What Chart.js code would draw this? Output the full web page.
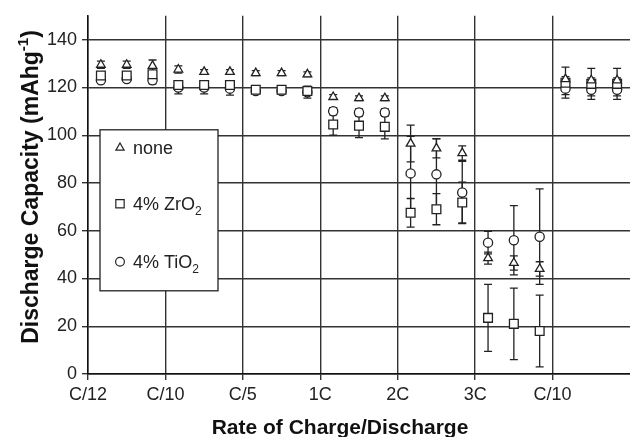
<!DOCTYPE html>
<html>
<head>
<meta charset="utf-8">
<script src="https://cdn.jsdelivr.net/npm/chart.js@4.4.1/dist/chart.umd.min.js"></script>
<style>
  html, body { margin: 0; padding: 0; background: #fff; }
</style>
</head>
<body>
<canvas id="myChart" width="630" height="437"></canvas>
<script>
const rate_labels = ['C/12', 'C/10', 'C/5', '1C', '2C', '3C', 'C/10'];
const cycles_per_rate = 3;
const y_ticks = [0, 20, 40, 60, 80, 100, 120, 140];

const none_values = [129.5, 129.5, 129, 127.5, 126.5, 126.5, 126, 126, 125.5, 116, 115.5, 115.5, 96.5, 94.5, 92.5, 48.5, 46.5, 44, 123.5, 123, 123];
const none_errors = [1.5, 1.5, 2.5, 1.5, 1, 1, 1, 1, 1, 1, 1, 1, 7.7, 4, 3, 2.5, 3, 3, 1, 1, 1];

const zro2_values = [125, 125, 125.5, 121, 121, 121, 119, 119, 118.5, 104.5, 104, 103.5, 67.5, 69, 71.8, 23.5, 21, 18, 122, 121.5, 121.5];
const zro2_errors = [1, 1, 1.5, 1, 1, 1, 1, 1, 1, 4.5, 5, 5, 6, 6.5, 8.5, 14, 15, 15, 6.5, 6.5, 6.5];

const tio2_values = [123, 123.5, 123, 120, 120, 119.5, 118.5, 118.5, 118, 110, 109.5, 109.5, 84, 83.6, 76, 55, 56, 57.5, 119.5, 119, 119];
const tio2_errors = [1, 1, 1.5, 2.7, 2.7, 2.7, 1, 1, 2.5, 1.5, 1.5, 1.5, 15.5, 15, 13, 4.7, 14.5, 20, 2.5, 2.5, 2.5];

const series_names = ['none', '4% ZrO₂', '4% TiO₂'];
const x_title = 'Rate of Charge/Discharge';
const y_title = 'Discharge Capacity (mAhg⁻¹)';

const ink = '#222';
const font_family = '"Liberation Sans", Arial, sans-serif';

// cycle i sits inside its rate band, at 1/6, 1/2 and 5/6 of the band
const x_for = (i) => Math.floor(i / cycles_per_rate) + ((i % cycles_per_rate) * 2 + 1) / (cycles_per_rate * 2);
const to_points = (values, errors) => values.map((v, i) => ({ x: x_for(i), y: v, err: errors[i] }));

const make_dataset = (label, values, errors, style, radius) => ({
    label,
    data: to_points(values, errors),
    showLine: false,
    pointStyle: style,
    pointRadius: radius,
    pointBorderWidth: 1.3,
    borderColor: ink,
    backgroundColor: '#fff'
});

const sub_chars = '₀₁₂₃₄₅₆₇₈₉';
const sup_chars = { '⁻': '-', '¹': '1' };

// draws text, putting unicode sub/superscripts in as small shifted glyphs
const draw_rich = (ctx, text, x, y, size, weight, align) => {
    const parts = [];
    for (const ch of text) {
        let kind = 'n', t = ch;
        if (sub_chars.includes(ch)) { kind = 'sub'; t = String(sub_chars.indexOf(ch)); }
        else if (sup_chars[ch]) { kind = 'sup'; t = sup_chars[ch]; }
        const last = parts[parts.length - 1];
        if (last && last.kind === kind) last.t += t; else parts.push({ kind, t });
    }
    const small = Math.round(size * 0.65);
    const fontFor = (k) => `${weight} ${k === 'n' ? size : small}px ${font_family}`;
    let total = 0;
    parts.forEach(p => { ctx.font = fontFor(p.kind); p.w = ctx.measureText(p.t).width; total += p.w; });
    let cx = align === 'center' ? x - total / 2 : x;
    ctx.textAlign = 'left';
    ctx.textBaseline = 'alphabetic';
    parts.forEach(p => {
        ctx.font = fontFor(p.kind);
        const dy = p.kind === 'sub' ? size * 0.25 : p.kind === 'sup' ? -size * 0.42 : 0;
        ctx.fillText(p.t, cx, y + dy);
        cx += p.w;
    });
};

const errorBars = {
    id: 'errorBars',
    beforeDatasetsDraw(chart) {
        const { ctx, scales: { x, y } } = chart;
        ctx.save();
        ctx.strokeStyle = ink;
        ctx.lineWidth = 1.3;
        chart.data.datasets.forEach(ds => {
            ds.data.forEach(p => {
                const px = x.getPixelForValue(p.x);
                const top = y.getPixelForValue(p.y + p.err);
                const bottom = y.getPixelForValue(p.y - p.err);
                ctx.beginPath();
                ctx.moveTo(px, top); ctx.lineTo(px, bottom);
                ctx.moveTo(px - 4, top); ctx.lineTo(px + 4, top);
                ctx.moveTo(px - 4, bottom); ctx.lineTo(px + 4, bottom);
                ctx.stroke();
            });
        });
        ctx.restore();
    }
};

const boxLegend = {
    id: 'boxLegend',
    afterDraw(chart) {
        const { ctx, chartArea } = chart;
        const left = chartArea.left + 12;
        const top = chartArea.top + 114;
        const rows = [18, 74, 132];
        ctx.save();
        ctx.fillStyle = '#fff';
        ctx.strokeStyle = ink;
        ctx.lineWidth = 1.3;
        ctx.fillRect(left, top, 118, 161);
        ctx.strokeRect(left, top, 118, 161);
        chart.data.datasets.forEach((ds, i) => {
            const cy = top + rows[i];
            ctx.strokeStyle = ink;
            ctx.fillStyle = '#fff';
            ctx.lineWidth = 1.2;
            Chart.helpers.drawPoint(ctx, { pointStyle: ds.pointStyle, radius: ds.pointRadius * 0.95, borderWidth: 1.2 }, left + 20, cy);
            ctx.fillStyle = ink;
            draw_rich(ctx, ds.label, left + 33, cy + 6.5, 18, 'normal', 'left');
        });
        ctx.restore();
    }
};

const axisTitles = {
    id: 'axisTitles',
    afterDraw(chart) {
        const { ctx } = chart;
        ctx.save();
        ctx.fillStyle = '#111';
        draw_rich(ctx, x_title, 340, 434, 21, 'bold', 'center');
        ctx.translate(38, 187);
        ctx.rotate(-Math.PI / 2);
        draw_rich(ctx, y_title, 0, 0, 23, 'bold', 'center');
        ctx.restore();
    }
};

const handleRenderChart = () => {
    const config = {
        type: 'scatter',
        data: {
            datasets: [
                make_dataset(series_names[0], none_values, none_errors, 'triangle', 5),
                make_dataset(series_names[1], zro2_values, zro2_errors, 'rect', 6.2),
                make_dataset(series_names[2], tio2_values, tio2_errors, 'circle', 4.6)
            ]
        },
        options: {
            responsive: false,
            animation: false,
            devicePixelRatio: 1,
            layout: { autoPadding: false, padding: { top: 13, right: 0, bottom: 0, left: 0 } },
            plugins: {
                legend: { display: false },
                tooltip: { enabled: false }
            },
            scales: {
                x: {
                    type: 'linear',
                    min: 0,
                    max: rate_labels.length,
                    afterBuildTicks: (s) => { s.ticks = rate_labels.map((_, i) => ({ value: i })); },
                    afterFit: (s) => { s.height = 63; s.paddingLeft = 0; s.paddingRight = 0; },
                    ticks: {
                        callback: (v) => rate_labels[v],
                        color: ink,
                        font: { family: font_family, size: 18 },
                        padding: 4,
                        maxRotation: 0,
                        autoSkip: false
                    },
                    grid: { color: '#333', lineWidth: 1.4, tickLength: 6, tickColor: '#333' },
                    border: { color: '#111', width: 1.5 }
                },
                y: {
                    min: 0,
                    max: 150,
                    afterBuildTicks: (s) => { s.ticks = y_ticks.map(v => ({ value: v })); },
                    afterFit: (s) => { s.width = 88; },
                    ticks: {
                        color: ink,
                        font: { family: font_family, size: 18 },
                        padding: 5
                    },
                    grid: { color: '#333', lineWidth: 1.4, tickLength: 6, tickColor: '#333' },
                    border: { color: '#111', width: 1.5 }
                }
            }
        },
        plugins: [errorBars, boxLegend, axisTitles]
    };
    new Chart(document.getElementById('myChart'), config);
};

handleRenderChart();
</script>
</body>
</html>
